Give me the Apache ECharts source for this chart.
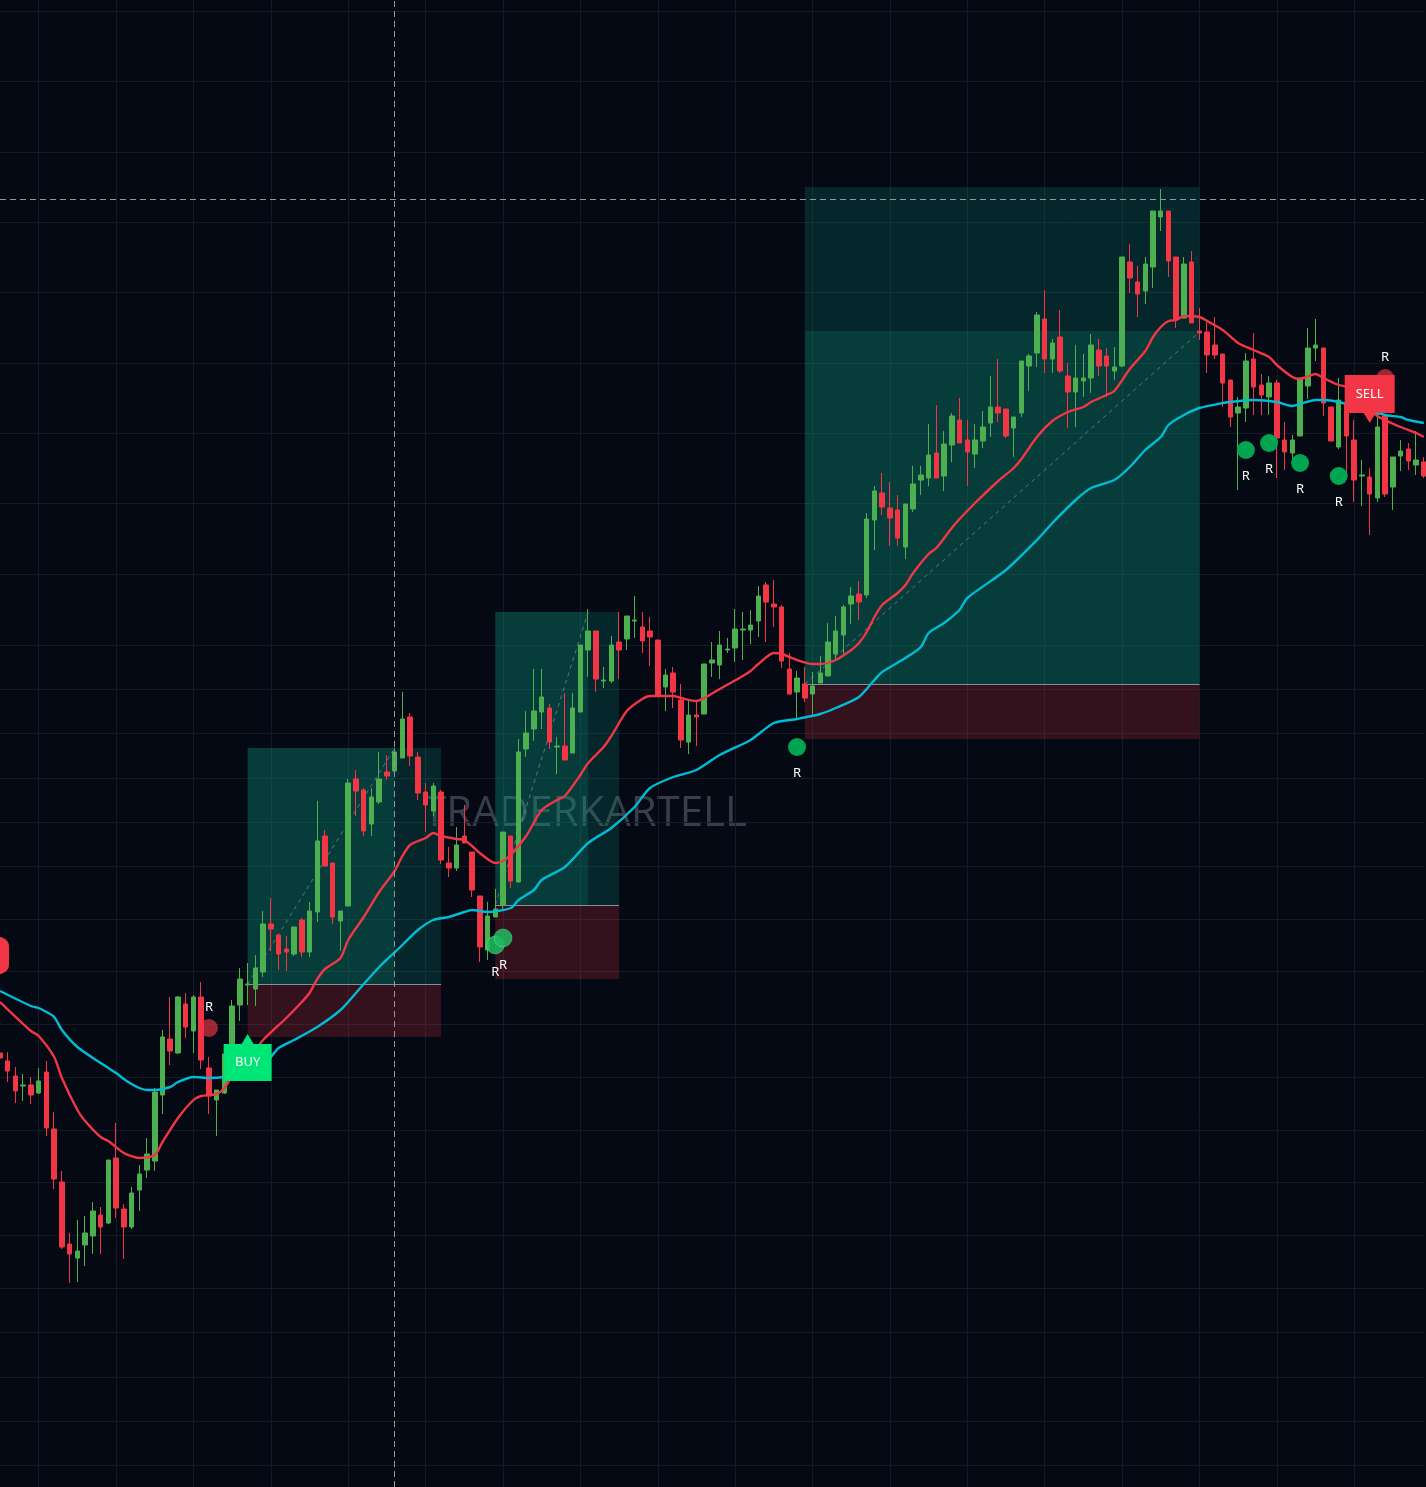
<!DOCTYPE html>
<html><head><meta charset="utf-8">
<script src="https://cdn.jsdelivr.net/npm/echarts@6/dist/echarts.min.js"></script>
<style>html,body{margin:0;padding:0;background:#040914;}#c{width:1426px;height:1487px;}</style>
</head><body><div id="c"></div><script>
// OHLC rows: [open, close, low, high]
const candles = [
[947,942,938,950],[939,929,918,948],[924,909,897,933],[914,915,899,926],[915,905,896,923],
[907,919,906,932],[928,872,864,939],[871,821,811,888],[818,753,751,829],[756,746,717,767],
[742,749,718,780],[755,767,734,784],[764,789,746,798],[785,773,746,793],[777,840,776,840],
[842,792,782,877],[791,773,741,796],[773,807,771,813],[810,826,789,835],[830,846,822,862],
[839,908,829,912],[905,963,886,970],[961,949,935,1003],[947,1003,946,1004],[996,973,962,1007],
[969,1003,947,1005],[1003,940,931,1018],[932,904,886,943],[900,910,864,910],[907,946,906,946],
[949,994,946,1000],[995,1021,979,1032],[1015,1016,995,1037],[1011,1032,994,1045],[1028,1076,1023,1089],
[1076,1071,1049,1102],[1065,1046,1030,1065],[1051,1048,1029,1064],[1046,1073,1044,1073],[1080,1048,1043,1082],
[1048,1089,1043,1098],[1088,1159,1078,1199],[1164,1134,1134,1170],[1137,1083,1076,1137],[1079,1089,1049,1089],
[1094,1217,1094,1221],[1221,1209,1184,1230],[1210,1169,1164,1212],[1176,1203,1164,1212],[1198,1221,1196,1248],
[1228,1224,1220,1245],[1229,1248,1225,1252],[1242,1281,1242,1308],[1283,1244,1234,1287],[1243,1207,1200,1248],
[1208,1195,1168,1217],[1189,1214,1184,1217],[1208,1140,1136,1210],[1137,1132,1123,1153],[1132,1155,1129,1173],
[1164,1157,1157,1195],[1148,1110,1103,1148],[1104,1053,1038,1104],[1050,1084,1040,1098],[1083,1091,1083,1111],
[1095,1168,1090,1168],[1164,1119,1112,1164],[1118,1248,1118,1261],[1251,1267,1243,1289],[1271,1289,1259,1331],
[1288,1303,1271,1331],[1292,1258,1251,1296],[1253,1254,1226,1263],[1254,1240,1240,1307],[1247,1292,1247,1307],
[1288,1355,1288,1355],[1350,1369,1323,1391],[1369,1321,1308,1369],[1319,1320,1312,1333],[1319,1355,1317,1364],
[1358,1350,1321,1388],[1361,1384,1350,1384],[1379,1380,1362,1404],[1373,1359,1347,1388],[1369,1363,1334,1383],
[1360,1305,1305,1360],[1313,1325,1289,1331],[1327,1308,1292,1333],[1300,1260,1252,1316],[1258,1285,1246,1300],
[1285,1283,1254,1300],[1286,1336,1286,1336],[1337,1340,1323,1358],[1335,1355,1321,1369],[1350,1351,1347,1362],
[1352,1371,1338,1391],[1370,1371,1340,1388],[1370,1375,1356,1390],[1379,1404,1363,1414],[1415,1398,1358,1418],
[1396,1393,1373,1420],[1393,1339,1332,1395],[1331,1306,1305,1347],[1308,1322,1282,1329],[1316,1302,1298,1333],
[1306,1314,1285,1328],[1317,1327,1317,1344],[1324,1358,1324,1377],[1346,1369,1341,1384],[1365,1393,1345,1395],
[1396,1404,1376,1413],[1406,1398,1380,1419],[1405,1481,1402,1487],[1480,1509,1450,1514],[1507,1493,1485,1527],
[1492,1482,1454,1518],[1490,1462,1454,1505],[1453,1496,1441,1496],[1491,1516,1488,1534],[1520,1525,1505,1534],
[1522,1545,1514,1576],[1547,1522,1522,1595],[1524,1556,1509,1569],[1555,1584,1538,1587],[1580,1557,1557,1602],
[1560,1548,1514,1580],[1546,1560,1532,1576],[1559,1573,1552,1589],[1577,1593,1563,1624],[1593,1587,1578,1641],
[1591,1564,1562,1591],[1572,1583,1543,1583],[1587,1639,1583,1639],[1634,1644,1609,1646],[1647,1685,1633,1688],
[1681,1641,1627,1710],[1641,1657,1627,1661],[1663,1629,1627,1690],[1624,1608,1572,1637],[1608,1622,1573,1655],
[1619,1622,1603,1646],[1622,1655,1607,1666],[1650,1634,1624,1661],[1644,1634,1603,1652],[1629,1633,1620,1653],
[1634,1743,1633,1743],[1738,1722,1707,1756],[1718,1706,1683,1734],[1709,1736,1696,1743],[1733,1789,1712,1789],
[1783,1789,1769,1811],[1789,1739,1723,1789],[1743,1681,1672,1743],[1682,1736,1682,1743],[1738,1677,1677,1749],
[1669,1667,1660,1692],[1668,1645,1627,1680],[1655,1645,1641,1683],[1646,1617,1593,1646],[1620,1583,1573,1620],
[1587,1593,1510,1603],[1592,1639,1578,1647],[1641,1613,1585,1667],[1615,1605,1585,1626],[1603,1617,1585,1624],
[1617,1562,1522,1620],[1560,1548,1530,1578],[1547,1560,1534,1565],[1564,1622,1564,1622],[1614,1652,1601,1672],
[1652,1655,1639,1681],[1652,1597,1584,1652],[1593,1559,1559,1593],[1553,1600,1551,1622],[1595,1564,1527,1605],
[1560,1520,1498,1580],[1524,1525,1494,1540],[1523,1506,1465,1532],[1502,1573,1498,1589],[1584,1506,1503,1586],
[1513,1543,1490,1543],[1544,1549,1529,1560],[1551,1539,1530,1557],[1535,1540,1525,1569],[1538,1524,1522,1543]
];
const categories = candles.map((_, i) => String(i));

// Fast (red) moving average, read at selected bars: [barIndex, price]
const fastMA = [
[0,998],[4,969],[5,964],[7,943],[8,922],[10,890],[11,879],[13,863],[14,859],[16,847],[18,842],[20,845],
[21,858],[23,882],[25,900],[26,904],[28,906],[29,912],[30,924],[32,940],[34,960],[37,982],[39,998],[40,1007],
[41,1021],[42,1031],[44,1042],[45,1060],[47,1083],[49,1108],[51,1129],[52,1144],[53,1155],[55,1162],[56,1167],
[57,1164],[59,1161],[60,1160],[61,1154],[62,1147],[64,1137],[65,1139],[66,1145],[68,1164],[70,1190],[72,1200],
[73,1204],[75,1225],[76,1237],[78,1253],[79,1264],[81,1289],[83,1301],[84,1304],[87,1304],[88,1302],[90,1299],
[91,1302],[93,1311],[96,1324],[97,1329],[98,1336],[100,1347],[101,1346],[103,1340],[105,1336],[106,1336],
[108,1340],[110,1350],[111,1357],[112,1368],[113,1383],[114,1395],[116,1407],[117,1415],[118,1427],[120,1446],
[121,1452],[123,1472],[124,1481],[126,1497],[129,1519],[131,1532],[132,1541],[134,1563],[136,1579],[138,1588],
[140,1593],[141,1598],[143,1605],[144,1609],[146,1631],[148,1649],[149,1663],[150,1673],[151,1679],[152,1680],
[153,1684],[155,1683],[156,1679],[158,1670],[160,1657],[162,1650],[164,1643],[165,1635],[167,1623],[168,1621],
[170,1626],[171,1622],[173,1615],[174,1613],[178,1584],[181,1573],[183,1567],[184,1563]
];
// Slow (cyan) moving average, read at selected bars
const slowMA = [
[0,1009],[4,994],[5,992],[6,988],[7,983],[8,970],[10,953],[13,937],[14,932],[15,927],[16,921],[17,916],[18,912],[19,910],[20,910],
[22,913],[23,918],[25,923],[27,922],[29,923],[30,925],[33,932],[35,943],[36,952],[38,960],[41,973],[44,990],
[46,1007],[49,1033],[52,1055],[54,1070],[56,1080],[58,1083],[60,1088],[61,1090],[63,1088],[66,1092],[67,1100],
[69,1110],[70,1120],[73,1133],[76,1157],[79,1172],[82,1193],[84,1212],[87,1223],[90,1230],[93,1245],[97,1260],
[100,1277],[103,1281],[106,1286],[108,1292],[111,1303],[113,1320],[114,1328],[117,1342],[119,1353],[120,1367],
[122,1377],[124,1390],[125,1402],[130,1430],[134,1460],[136,1477],[139,1500],[141,1512],[144,1520],[146,1533],
[148,1550],[150,1563],[151,1575],[153,1585],[155,1592],[158,1597],[159,1598],[162,1600],[165,1598],[167,1594],
[168,1596],[170,1600],[171,1600],[173,1598],[179,1585],[181,1583],[182,1580],[184,1577]
];

// Position boxes: [startBar, endBar, stop, entry, target, highlightEndBar, highlightTop]
const positions = [
  [32, 57, 963, 1016, 1252, 51, 1252],
  [64, 80, 1021, 1095, 1388, 76, 1388],
  [104, 155, 1261, 1316, 1813, 155, 1669]
];
// Dashed path inside each box: [fromBar, fromPrice, toBar, toPrice]
const paths = [[32,1016,51,1252],[64,1095,76,1388],[104,1316,155,1668]];

const greenDots = [[103,1253],[161,1550],[164,1557],[168,1537],[173,1524]];
const paleDots = [[64,1055],[65,1062]];
const redDots = [[27,972],[179,1622]];
const buySignal = [[32,942.5]];
const sellSignal = [[177,1601]];
const edgeSignal = [[0,1044.5]];
const crossBar = 51, crossPrice = 1801;
const gridPrices = [1989,1919,1848,1778,1708,1637,1567,1497,1426,1355,1311,1267,1222,1178,1134,1081,1029,976,923,870,818,765,712,668,623,579,535];

const GREEN='#4caf50', RED='#f23645';
const FONT='"Noto Sans", "Open Sans", sans-serif';

const boxAreas = [];
const boxLines = [];
positions.forEach(p => {
  boxAreas.push([{coord:[p[0],p[3]], itemStyle:{color:'rgba(8,153,129,0.2)'}},{coord:[p[1],p[4]]}]);
  boxAreas.push([{coord:[p[0],p[3]], itemStyle:{color:'rgba(8,153,129,0.2)'}},{coord:[p[5],p[6]]}]);
  boxAreas.push([{coord:[p[0],p[2]], itemStyle:{color:'rgba(242,54,69,0.2)'}},{coord:[p[1],p[3]]}]);
  boxLines.push([{coord:[p[0],p[3]], lineStyle:{color:'#8a8e99',width:1,type:'solid'}},{coord:[p[1],p[3]]}]);
});
paths.forEach(d => {
  boxLines.push([{coord:[d[0],d[1]], lineStyle:{color:'rgba(150,155,165,0.6)',width:1,type:[4,4]}},{coord:[d[2],d[3]]}]);
});

const chart = echarts.init(document.getElementById('c'), null, {renderer:'canvas'});
chart.setOption({
  animation:false,
  backgroundColor:'#040914',
  grid:{left:-1.45,right:2.15,top:0,bottom:0},
  xAxis:{type:'category',data:categories,boundaryGap:false,
    axisLine:{show:false},axisTick:{show:false},axisLabel:{show:false},
    splitLine:{show:true,interval:(i)=> (i-5)%10===0,lineStyle:{color:'#151a26',width:1}}},
  yAxis:{type:'value',min:513,max:2000,axisLine:{show:false},axisTick:{show:false},axisLabel:{show:false},splitLine:{show:false}},
  graphic:[{type:'text',x:585,y:814,z:-10,silent:true,
    style:{text:'TRADERKARTELL',fill:'rgba(180,185,200,0.3)',font:'42px "Open Sans", sans-serif',textAlign:'center',textVerticalAlign:'middle'}}],
  series:[
    {name:'grid',type:'line',data:[],z:0,silent:true,
      markLine:{z:0,silent:true,symbol:'none',label:{show:false},animation:false,
        lineStyle:{color:'#151a26',width:1,type:'solid'},data:gridPrices.map(v=>({yAxis:v}))}},
    {name:'boxes',type:'line',data:[],z:1,silent:true,
      markArea:{z:1,silent:true,data:boxAreas},
      markLine:{z:2,silent:true,symbol:'none',label:{show:false},data:boxLines}},
    {name:'price',type:'candlestick',data:candles,z:3,barWidth:5,
      itemStyle:{color:GREEN,color0:RED,borderColor:GREEN,borderColor0:RED,borderWidth:1}},
    {name:'fast',type:'line',data:fastMA,z:4,smooth:0.25,showSymbol:false,lineStyle:{color:RED,width:2.4}},
    {name:'slow',type:'line',data:slowMA,z:4,smooth:0.25,showSymbol:false,lineStyle:{color:'#00bcd4',width:2.4}},
    {name:'cross',type:'line',data:[],z:5,silent:true,
      markLine:{z:5,silent:true,symbol:'none',label:{show:false},
        lineStyle:{color:'#9598a1',width:1,type:[6,4]},data:[{xAxis:crossBar},{yAxis:crossPrice}]}},
    {name:'green',type:'scatter',data:greenDots,z:6,symbolSize:18,clip:false,
      itemStyle:{color:'#00a551',opacity:1},
      label:{show:true,formatter:'R',position:'bottom',distance:11,color:'#ffffff',fontSize:13,fontFamily:FONT}},
    {name:'pale',type:'scatter',data:paleDots,z:6,symbolSize:18,clip:false,
      itemStyle:{color:'rgba(30,190,95,0.85)',borderColor:'rgba(140,255,180,0.35)',borderWidth:1,opacity:1},
      label:{show:true,formatter:'R',position:'bottom',distance:11,color:'#ffffff',fontSize:13,fontFamily:FONT}},
    {name:'red',type:'scatter',data:redDots,z:6,symbolSize:18,clip:false,
      itemStyle:{color:'rgba(242,54,69,0.65)',opacity:1},
      label:{show:true,formatter:'R',position:'top',distance:5,color:'#ffffff',fontSize:13,fontFamily:FONT}},
    {name:'buy',type:'scatter',data:buySignal,z:7,clip:false,
      symbol:'path://M0,10 L18,10 L24,0 L30,10 L48,10 L48,47 L0,47 Z',symbolSize:[48,47],
      itemStyle:{color:'#00e676',opacity:1},
      label:{show:true,formatter:'BUY',position:'inside',offset:[0,5],color:'#ffffff',fontSize:13,fontFamily:FONT}},
    {name:'sell',type:'scatter',data:sellSignal,z:7,clip:false,
      symbol:'path://M0,0 L50,0 L50,38 L31,38 L25,48 L19,38 L0,38 Z',symbolSize:[50,48],
      itemStyle:{color:RED,opacity:1},
      label:{show:true,formatter:'SELL',position:'inside',offset:[0,-5],color:'#ffffff',fontSize:13,fontFamily:FONT}},
    {name:'edge',type:'scatter',data:edgeSignal,z:7,clip:false,
      symbol:'roundRect',symbolSize:[50,38],symbolOffset:[-16,0],itemStyle:{color:RED,opacity:1}}
  ]
});
</script></body></html>
